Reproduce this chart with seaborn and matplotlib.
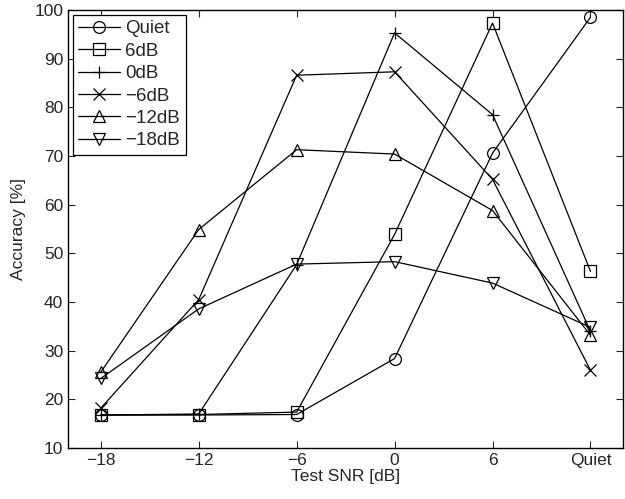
import matplotlib
matplotlib.use("Agg")
import matplotlib.pyplot as plt
import seaborn as sns
import pandas as pd

categories = ["\u221218", "\u221212", "\u22126", "0", "6", "Quiet"]
series_names = ["Quiet", "6dB", "0dB", "\u22126dB", "\u221212dB", "\u221218dB"]
quiet = [16.8, 16.8, 16.9, 28.4, 70.6, 98.5]
db6 = [16.8, 16.9, 17.4, 53.9, 97.3, 46.3]
db0 = [16.8, 17.0, 47.7, 95.3, 78.5, 34.0]
dbm6 = [18.2, 40.5, 86.6, 87.3, 65.2, 26.0]
dbm12 = [25.6, 54.9, 71.3, 70.4, 58.8, 33.2]
dbm18 = [24.3, 38.6, 47.8, 48.3, 43.9, 34.8]
yticks = [10, 20, 30, 40, 50, 60, 70, 80, 90, 100]

sns.set_style("ticks")
plt.rcParams['font.family'] = ['Liberation Sans', 'DejaVu Sans']
plt.rcParams['xtick.direction'] = 'in'
plt.rcParams['ytick.direction'] = 'in'

rows = []
for name, vals in zip(series_names, [quiet, db6, db0, dbm6, dbm12, dbm18]):
    for i, v in enumerate(vals):
        rows.append({"series": name, "x": i, "acc": v})
df = pd.DataFrame(rows)

fig = plt.figure(figsize=(6.25, 4.99), dpi=100)
ax = fig.add_axes([0.109, 0.102, 0.888, 0.878])

markers = ['o', 's', '+', 'x', '^', 'v']
for name, m in zip(series_names, markers):
    sub = df[df.series == name]
    sns.lineplot(data=sub, x="x", y="acc", ax=ax, color="black", lw=0.9,
                 marker=m, markersize=8.5 if m not in ('+', 'x') else 8,
                 markerfacecolor='none', markeredgecolor='black',
                 markeredgewidth=0.9, label=name)

ax.set_xlim(-1/3, 5 + 1/3)
ax.set_ylim(10, 100)
ax.set_xticks(range(len(categories)))
ax.set_xticklabels(categories)
ax.set_yticks(yticks)
ax.tick_params(labelsize=12.5, top=True, right=True, length=5, width=0.8)
ax.set_xlabel("Test SNR [dB]", fontsize=12.5, labelpad=1)
ax.set_ylabel("Accuracy [%]", fontsize=12.5, labelpad=6)
for s in ax.spines.values():
    s.set_visible(True)
    s.set_linewidth(1.0)
    s.set_color('black')

leg = ax.legend(loc='upper left', fontsize=13.5, frameon=True, fancybox=False,
                edgecolor='black', framealpha=1, borderpad=0.3,
                labelspacing=0.28, handlelength=2.2, handletextpad=0.3,
                borderaxespad=0.25)
leg.get_frame().set_linewidth(0.9)

fig.savefig("out.png", dpi=100)
